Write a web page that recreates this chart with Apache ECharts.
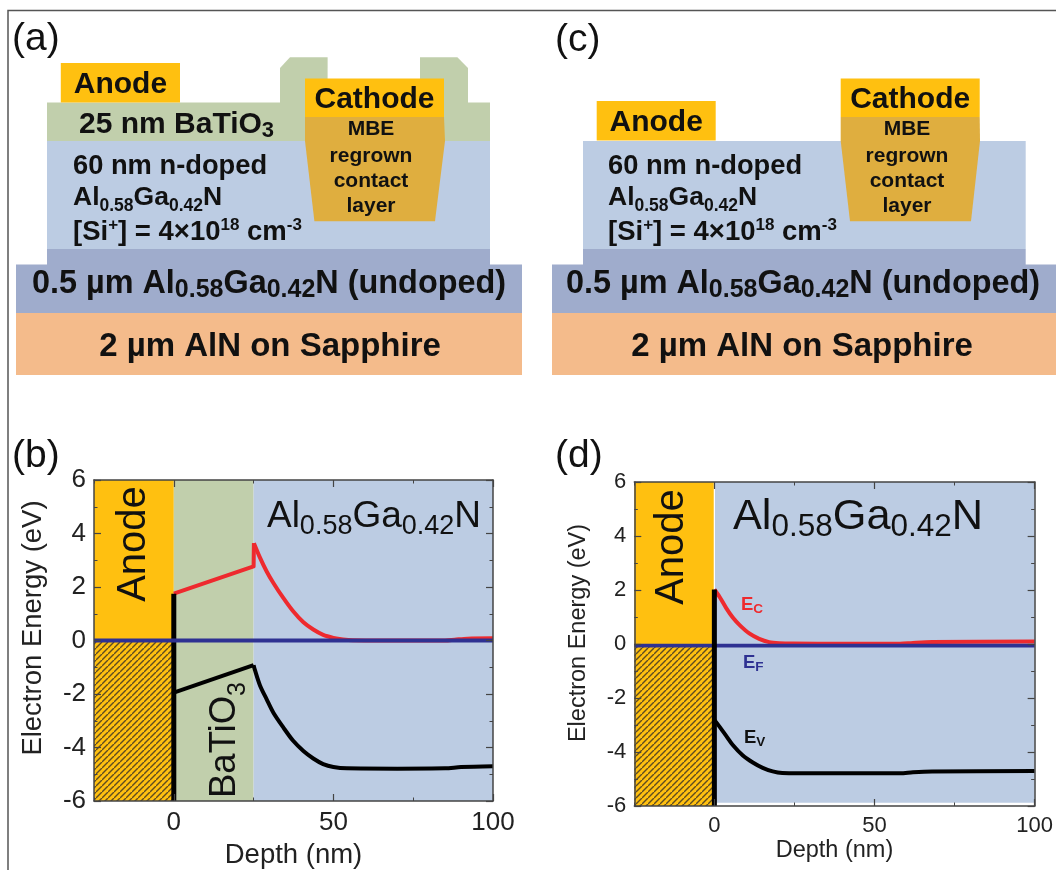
<!DOCTYPE html>
<html><head><meta charset="utf-8">
<style>html,body{margin:0;padding:0;background:#fff}#c{width:1056px;height:870px}</style>
<script src="https://cdn.jsdelivr.net/npm/echarts@6/dist/echarts.min.js"></script>
</head><body><div id="c"></div>
<script>
// ---- data ----
const depthTicks = [0, 50, 100];
const energyRange = [-6, 6];
const b_Ec_oxide = [[0,1.75],[25,2.77],[25.1,3.64]];
const b_Ec_nitride = [[25.1,3.64],[27,3.1],[29.1,2.58],[31.2,2.15],[34.3,1.59],[37.4,1.09],[40.6,0.68],[43.7,0.41],[46.8,0.21],[50,0.10],[53,0.04],[56,0.01],[70,0],[85,0],[88,0.03],[92,0.07],[100,0.08]];
const b_Ev_oxide = [[0,-1.95],[25,-0.92]];
const b_Ev_nitride = [[25,-0.92],[25.4,-1.1],[27,-1.68],[29.1,-2.2],[31.2,-2.7],[34.3,-3.25],[37.4,-3.75],[40.6,-4.13],[43.7,-4.41],[46.8,-4.62],[50,-4.73],[54.2,-4.78],[70,-4.79],[85,-4.78],[90,-4.73],[100,-4.70]];
const b_Ef = [[-25,0],[100,0]];
const b_barrier = [[0,1.75],[0,-6]];
const d_Ec = [[0,2.02],[1.6,1.75],[3.7,1.33],[5.75,0.98],[7.9,0.70],[10.9,0.39],[14,0.19],[17.1,0.07],[20.2,0.03],[24.4,0.015],[40,0.01],[58,0.01],[62,0.04],[68,0.07],[100,0.09]];
const d_Ev = [[0,-2.81],[1.6,-3.06],[3.75,-3.41],[5.75,-3.74],[8.9,-4.13],[12,-4.39],[15.1,-4.59],[18.2,-4.72],[21.2,-4.78],[26.5,-4.79],[40,-4.79],[58,-4.79],[62,-4.75],[68,-4.72],[100,-4.70]];
const d_Ef = [[-25,-0.06],[100,-0.06]];
const d_barrier = [[0,2.02],[0,-6]];
const b_bands = [['anode',-25,0,0,6],['hatch',-25,0,-6,0],['green',0,25,-6,6],['blue',25,100,-6,6]];
const d_bands = [['anode',-25,-0.2,0,6],['hatch',-25,0,-6,0],['blue',0.2,100,-5.88,6]];

// ---- styling ----
const F = 'Liberation Sans';
const C = {anode:'#FFC010', green:'#C1CFAC', blue:'#BCCCE3', undoped:'#9FACCC', sapphire:'#F4BB8B', mbe:'#DFAE3F',
  red:'#EE2A2E', navy:'#2E3192', axis:'#444', text:'#111'};
const hatchCv = document.createElement('canvas');
hatchCv.width = hatchCv.height = 6;
(function(){const g=hatchCv.getContext('2d');g.fillStyle=C.anode;g.fillRect(0,0,6,6);g.strokeStyle='#5e4c22';g.lineWidth=1.1;
 [[-6,6,6,-6],[-6,12,12,-6],[0,6,6,0]].forEach(l=>{g.beginPath();g.moveTo(l[0],l[1]);g.lineTo(l[2],l[3]);g.stroke();});})();
const fills = {anode:C.anode, green:C.green, blue:C.blue, hatch:{image:hatchCv, repeat:'repeat'}};

function grid(l,r,t,b){return {left:l,top:t,width:r-l,height:b-t,containLabel:false};}
function xAxes(g,tickFont,nameFont,nameGap){
  const base={gridIndex:g,type:'value',min:-25,max:100,interval:25,z:6};
  const line={show:true,onZero:false,lineStyle:{color:C.axis,width:1.5}};
  return [
    Object.assign({},base,{position:'bottom',name:'Depth (nm)',nameLocation:'middle',nameGap:nameGap,
      nameTextStyle:{fontFamily:F,fontSize:nameFont,color:'#222'},axisLine:line,splitLine:{show:false},
      axisTick:{inside:true,length:7,customValues:depthTicks,lineStyle:{color:C.axis,width:1.2}},
      axisLabel:{customValues:depthTicks,fontFamily:F,fontSize:tickFont,color:'#222',margin:9}}),
    Object.assign({},base,{position:'bottom',axisLine:{show:false,onZero:false},splitLine:{show:false},axisLabel:{show:false},
      axisTick:{inside:true,length:3.5,lineStyle:{color:C.axis,width:1}}}),
    Object.assign({},base,{position:'top',axisLine:line,splitLine:{show:false},axisLabel:{show:false},
      axisTick:{inside:true,length:7,customValues:depthTicks,lineStyle:{color:C.axis,width:1.2}}}),
    Object.assign({},base,{position:'top',axisLine:{show:false,onZero:false},splitLine:{show:false},axisLabel:{show:false},
      axisTick:{inside:true,length:3.5,lineStyle:{color:C.axis,width:1}}})
  ];
}
function yAxes(g,tickFont,nameFont,nameGap,shift){
  const base={gridIndex:g,type:'value',min:energyRange[0],max:energyRange[1],interval:2,z:6,splitLine:{show:false},
    minorTick:{show:true,splitNumber:2,length:3.5,lineStyle:{color:C.axis,width:1}},minorSplitLine:{show:false}};
  const line={show:true,onZero:false,lineStyle:{color:C.axis,width:1.5}};
  return [
    Object.assign({},base,{position:'left',name:'Electron Energy (eV)',nameLocation:'middle',nameGap:nameGap,
      nameTextStyle:{fontFamily:F,fontSize:nameFont,color:'#222',padding:[0,0,0,shift]},axisLine:line,
      axisTick:{inside:true,length:7,lineStyle:{color:C.axis,width:1.2}},
      axisLabel:{fontFamily:F,fontSize:tickFont,color:'#222',margin:8,padding:[4,0,0,0]}}),
    Object.assign({},base,{position:'right',axisLine:line,axisLabel:{show:false},
      axisTick:{inside:true,length:7,lineStyle:{color:C.axis,width:1.2}}})
  ];
}
function bandSeries(bands,xi,yi){
  return {type:'line',data:[],xAxisIndex:xi,yAxisIndex:yi,z:1,silent:true,
    markArea:{silent:true,z:1,data:bands.map(b=>[{coord:[b[1],b[3]],itemStyle:{color:fills[b[0]],opacity:1}},{coord:[b[2],b[4]]}])}};
}
function curve(name,data,color,w,xi,yi,z,smooth){
  return {name:name,type:'line',data:data,xAxisIndex:xi,yAxisIndex:yi,z:z||3,symbol:'none',showSymbol:false,smooth:smooth||false,
    lineStyle:{color:color,width:w,cap:'butt',join:'round'},silent:true};
}

// ---- text helpers ----
function rich(parts){return parts.map(p=>'{'+p[0]+'|'+p[1]+'}').join('');}
function txt(x,y,text,size,o){
  o=o||{};
  return {type:'text',x:x,y:y,rotation:o.rot||0,z:20,silent:true,style:{text:text,fontFamily:F,fontSize:size,fontWeight:o.w||'normal',
    fill:o.c||C.text,textAlign:o.a||'center',textVerticalAlign:'middle',rich:o.rich}};
}
function subText(x,y,parts,size,sub,lh,o){
  o=o||{};
  const w=o.w||'normal',c=o.c||C.text;
  const r={m:{fontFamily:F,fontSize:size,fontWeight:w,fill:c,color:c,lineHeight:lh},
           s:{fontFamily:F,fontSize:sub,fontWeight:w,fill:c,color:c,verticalAlign:'bottom'},
           u:{fontFamily:F,fontSize:sub,fontWeight:w,fill:c,color:c,verticalAlign:'top'}};
  return txt(x,y,rich(parts),size,Object.assign({},o,{rich:r}));
}
function rect(x1,y1,x2,y2,fill,z){return {type:'rect',z:z||2,silent:true,shape:{x:x1,y:y1,width:x2-x1,height:y2-y1},style:{fill:fill}};}
function poly(pts,fill,z){return {type:'polygon',z:z||2,silent:true,shape:{points:pts},style:{fill:fill}};}
const ALGA=[['m','Al'],['s','0.58'],['m','Ga'],['s','0.42'],['m','N']];

function stack(o){ // one device schematic
  const e=[];
  e.push(rect(o.sub[0],313,o.sub[1],375,C.sapphire));
  e.push(rect(o.sub[0],264.5,o.sub[1],313,C.undoped));
  e.push(rect(o.mesa[0],249,o.mesa[1],265,C.undoped));
  e.push(rect(o.mesa[0],141,o.mesa[1],249,C.blue));
  e.push(poly(o.mbe,C.mbe,3));
  e.push(rect(o.cat[0],78.5,o.cat[1],117,C.anode,4));
  e.push(rect(o.an[0],o.an[2],o.an[1],o.an[3],C.anode,4));
  e.push(txt((o.an[0]+o.an[1])/2,(o.an[2]+o.an[3])/2+2,'Anode',30,{w:'bold'}));
  e.push(txt((o.cat[0]+o.cat[1])/2,100,'Cathode',30,{w:'bold'}));
  const cx=o.mbeText;
  [['MBE',129],['regrown',156],['contact',181],['layer',206]].forEach(t=>e.push(txt(cx,t[1],t[0],21,{w:'bold'})));
  e.push(txt(o.tx,166,'60 nm n-doped',27.3,{w:'bold',a:'left'}));
  e.push(subText(o.tx,198,ALGA,26.5,17.5,34,{w:'bold',a:'left'}));
  e.push(subText(o.tx,232,[['m','[Si'],['u','+'],['m','] = 4×10'],['u','18'],['m',' cm'],['u','-3']],27.5,17,30,{w:'bold',a:'left'}));
  e.push(subText((o.sub[0]+o.sub[1])/2+o.shift,284,[['m','0.5 µm Al'],['s','0.58'],['m','Ga'],['s','0.42'],['m','N (undoped)']],32.4,25,38,{w:'bold'}));
  e.push(txt((o.sub[0]+o.sub[1])/2+o.shift2,347,'2 µm AlN on Sapphire',33,{w:'bold'}));
  return e;
}

const graphics = [].concat(
  [{type:'polyline',z:30,silent:true,shape:{points:[[8,872],[8,10.5],[1058,10.5]]},style:{stroke:'#555',lineWidth:1.5,fill:null}}],
  // (a)
  [rect(47,102.5,490,141,C.green),
   poly([[280,103],[280,68],[290,57.3],[327.6,57.3],[327.6,103]],C.green),
   poly([[420,103],[420,57.3],[457.4,57.3],[468,68],[468,103]],C.green),
   subText(79,125,[['m','25 nm BaTiO'],['s','3']],30,22,34,{w:'bold',a:'left'})],
  stack({sub:[16,522],mesa:[47,490],an:[60.8,180,63,102.5],cat:[305,444],
    mbe:[[305,117],[444,117],[445,141],[435,221.3],[314.4,221.3],[305,141]],mbeText:371,tx:73,shift:0,shift2:1}),
  // (c)
  stack({sub:[552,1056],mesa:[583,1025.7],an:[596.7,715.7,101,140.5],cat:[840.7,979.7],
    mbe:[[840.7,117],[979.7,117],[980,141],[971,221.3],[850,221.3],[840.7,141]],mbeText:907,tx:608,shift:-1,shift2:-2}),
  // panel letters
  [txt(12,39,'(a)',39,{a:'left'}),txt(555,40,'(c)',39,{a:'left'}),txt(12,456,'(b)',39,{a:'left'}),txt(555,456,'(d)',39,{a:'left'})],
  // (b) labels
  [txt(134,544,'Anode',40,{rot:Math.PI/2}),
   subText(225,740,[['m','BaTiO'],['s','3']],36.5,25,52,{rot:Math.PI/2}),
   subText(374,517,ALGA,37,27,46,{})],
  // (d) labels
  [txt(672,547,'Anode',40,{rot:Math.PI/2}),
   subText(858,517,ALGA,43.3,31.5,53,{}),
   subText(741,605,[['m','E'],['s','C']],18.5,13.5,22,{w:'bold',a:'left',c:C.red}),
   subText(743,663,[['m','E'],['s','F']],18.5,13.5,22,{w:'bold',a:'left',c:C.navy}),
   subText(744,738,[['m','E'],['s','V']],18.5,13.5,22,{w:'bold',a:'left',c:'#111'})]
);

const chart = echarts.init(document.getElementById('c'),null,{renderer:'canvas'});
chart.setOption({
  animation:false,backgroundColor:'#fff',
  grid:[grid(94,493,480,802),grid(634.3,1036.7,482,806)],
  xAxis:[].concat(xAxes(0,26,27.5,40),xAxes(1,22,23.5,33)),
  yAxis:[].concat(yAxes(0,26,27.5,47,25),yAxes(1,22,23.5,44,22)),
  series:[
    bandSeries(b_bands,0,0),
    curve('Ec',b_Ec_oxide,C.red,4,0,0,3),
    curve('Ec',b_Ec_nitride,C.red,4,0,0,3,0.3),
    curve('Ev',b_Ev_oxide,'#000',4,0,0,3),
    curve('Ev',b_Ev_nitride,'#000',4,0,0,3,0.3),
    curve('Barrier',b_barrier,'#000',5,0,0,4),
    curve('Ef',b_Ef,C.navy,4,0,0,5),
    bandSeries(d_bands,4,2),
    curve('Ec',d_Ec,C.red,4,4,2,3,0.3),
    curve('Ev',d_Ev,'#000',4,4,2,3,0.3),
    curve('Ef',d_Ef,C.navy,3.8,4,2),
    curve('Barrier',d_barrier,'#000',5,4,2,5)
  ],
  graphic:{elements:graphics}
});
</script></body></html>
